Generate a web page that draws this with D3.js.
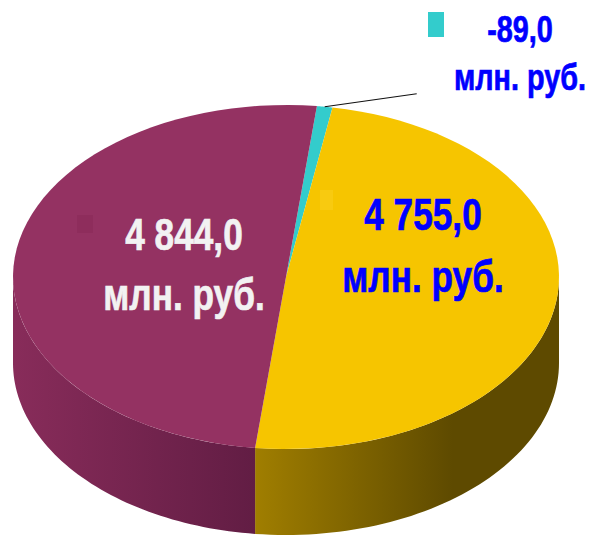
<!DOCTYPE html>
<html>
<head>
<meta charset="utf-8">
<script src="https://cdn.jsdelivr.net/npm/d3@7"></script>
<style>
  html, body { margin: 0; background: #fff; }
  svg { display: block; }
</style>
</head>
<body>
<div id="chart"></div>
<script>
// данные
const labels = ['-89,0', '4 755,0', '4 844,0'];
const values = [89, 4755, 4844];
const unit = 'млн. руб.';
const colors = ['#33cccc', '#f6c500', '#943262'];
const sideColors = [['#2aa8a8', '#1f7f7f'], ['#a07e00', '#5e4a00'], ['#882c5a', '#621d44']];
const textColors = ['#0000ff', '#0000ff', '#f2f2f2'];

const width = 592, height = 536;
const cx = 286, cy = 277, rx = 273, ry = 172, depth = 86;
const startDeg = 6.5;

const svg = d3.select('#chart').append('svg')
  .attr('width', width)
  .attr('height', height)
  .attr('viewBox', `0 0 ${width} ${height}`);

const defs = svg.append('defs');

const pie = d3.pie().sort(null).value(d => d)
  .startAngle(startDeg * Math.PI / 180)
  .endAngle(startDeg * Math.PI / 180 + 2 * Math.PI);
const arcs = pie(values);

// проекция угла на эллипс
const pt = (a, r = 1) => [cx + rx * r * Math.sin(a), cy - ry * r * Math.cos(a)];
const steps = (a0, a1) => d3.range(0, 61).map(i => a0 + (a1 - a0) * i / 60);

// боковые стенки (только передняя половина)
const sides = svg.append('g').attr('class', 'sides');
arcs.forEach((d, i) => {
  let s = Math.max(d.startAngle, Math.PI / 2);
  let e = Math.min(d.endAngle, 3 * Math.PI / 2);
  if (e <= s) return;
  const top = steps(s, e).map(a => pt(a));
  const bottom = top.map(p => [p[0], p[1] + depth]).reverse();
  const xs = top.map(p => p[0]);
  const gid = `side${i}`;
  const g = defs.append('linearGradient')
    .attr('id', gid)
    .attr('gradientUnits', 'userSpaceOnUse')
    .attr('x1', d3.min(xs)).attr('x2', d3.max(xs))
    .attr('y1', 0).attr('y2', 0);
  // у бордового левая сторона светлее, у жёлтого темнеет к правому краю
  const leftLight = i === 2;
  g.append('stop').attr('offset', 0).attr('stop-color', sideColors[i][0]);
  g.append('stop').attr('offset', leftLight ? 1 : 0.65).attr('stop-color', sideColors[i][1]);
  if (!leftLight) g.append('stop').attr('offset', 1).attr('stop-color', sideColors[i][1]);
  sides.append('path')
    .attr('d', d3.line()(top.concat(bottom)) + 'Z')
    .attr('fill', `url(#${gid})`);
});

// верхняя грань
const tops = svg.append('g').attr('class', 'tops');
arcs.forEach((d, i) => {
  const p = [[cx, cy]].concat(steps(d.startAngle, d.endAngle).map(a => pt(a)));
  tops.append('path')
    .attr('d', d3.line()(p) + 'Z')
    .attr('fill', colors[i]);
});

// подписи (шрифт сжимаем до узкого начертания)
const font = "'Liberation Sans Narrow', 'Arial Narrow', 'Liberation Sans', Arial, sans-serif";
const narrow = 0.8;
const labelPos = [
  { x: 520, y1: 42, y2: 90, size: 36, key: [428, 12, 16, 25], keyFill: colors[0] },
  { x: 423, y1: 230, y2: 292, size: 44, key: [320, 190, 13, 20], keyFill: '#f8ca10' },
  { x: 184, y1: 250, y2: 310, size: 44, key: [77, 215, 16, 18], keyFill: '#8e2d5c' }
];
const lab = svg.append('g').attr('class', 'labels');
arcs.forEach((d, i) => {
  const lp = labelPos[i];
  lab.append('rect')
    .attr('x', lp.key[0]).attr('y', lp.key[1])
    .attr('width', lp.key[2]).attr('height', lp.key[3])
    .attr('fill', lp.keyFill);
  [labels[i], unit].forEach((t, j) => {
    const txt = lab.append('text')
      .attr('x', lp.x)
      .attr('y', j === 0 ? lp.y1 : lp.y2)
      .attr('text-anchor', 'middle')
      .attr('font-family', font)
      .attr('font-weight', 'bold')
      .attr('font-size', lp.size)
      .attr('fill', textColors[i])
      .attr('stroke', textColors[i])
      .attr('stroke-width', 0.7)
      .text(t);
    const w = txt.node().getComputedTextLength();
    txt.attr('textLength', w * narrow).attr('lengthAdjust', 'spacingAndGlyphs');
  });
});

// выноска для маленького сектора
const c = arcs[0];
const mid = (c.startAngle + c.endAngle) / 2;
const p0 = pt(mid);
svg.append('line')
  .attr('x1', p0[0]).attr('y1', p0[1])
  .attr('x2', p0[0] + 92).attr('y2', p0[1] - 13)
  .attr('stroke', '#111')
  .attr('stroke-width', 1.2);
</script>
</body>
</html>
